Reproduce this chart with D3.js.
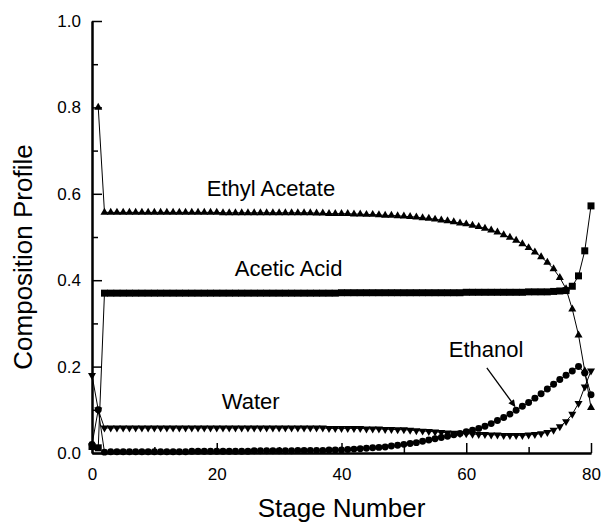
<!DOCTYPE html>
<html>
<head>
<meta charset="utf-8">
<script src="https://cdn.jsdelivr.net/npm/d3@7"></script>
<style>
  body { margin: 0; background: #fff; }
  text { font-family: "Liberation Sans", Arial, Helvetica, sans-serif; fill: #000; }
</style>
</head>
<body>
<div id="chart"></div>
<script>
// stage composition profiles (index = stage number, 0..80)
var ethylAcetate = [
  null, 0.800, 0.557, 0.557, 0.557, 0.557, 0.557, 0.557, 0.557, 0.557,
  0.557, 0.557, 0.557, 0.557, 0.557, 0.557, 0.557, 0.557, 0.557, 0.557,
  0.557, 0.556, 0.556, 0.556, 0.556, 0.556, 0.556, 0.556, 0.556, 0.556,
  0.556, 0.556, 0.556, 0.556, 0.556, 0.556, 0.555, 0.555, 0.554, 0.554,
  0.554, 0.554, 0.553, 0.553, 0.552, 0.552, 0.551, 0.550, 0.550, 0.549,
  0.548, 0.547, 0.546, 0.544, 0.543, 0.541, 0.539, 0.537, 0.535, 0.532,
  0.530, 0.527, 0.524, 0.520, 0.516, 0.511, 0.505, 0.499, 0.492, 0.484,
  0.475, 0.465, 0.454, 0.441, 0.426, 0.406, 0.380, 0.333, 0.273, 0.190,
  0.105
];

var aceticAcid = [
  0.015, 0.012, 0.370, 0.370, 0.370, 0.370, 0.370, 0.370, 0.370, 0.370,
  0.370, 0.370, 0.370, 0.370, 0.370, 0.370, 0.370, 0.370, 0.370, 0.370,
  0.370, 0.370, 0.370, 0.370, 0.370, 0.370, 0.370, 0.370, 0.370, 0.370,
  0.370, 0.370, 0.370, 0.370, 0.370, 0.370, 0.370, 0.370, 0.370, 0.370,
  0.371, 0.371, 0.371, 0.371, 0.371, 0.371, 0.371, 0.371, 0.371, 0.371,
  0.371, 0.371, 0.371, 0.371, 0.371, 0.371, 0.371, 0.371, 0.371, 0.371,
  0.372, 0.372, 0.372, 0.372, 0.372, 0.372, 0.372, 0.372, 0.372, 0.372,
  0.373, 0.373, 0.373, 0.373, 0.374, 0.375, 0.376, 0.386, 0.410, 0.468,
  0.572
];

var ethanol = [
  0.020, 0.100, 0.002, 0.003, 0.003, 0.003, 0.003, 0.003, 0.003, 0.003,
  0.003, 0.003, 0.003, 0.003, 0.003, 0.003, 0.004, 0.004, 0.004, 0.004,
  0.004, 0.004, 0.004, 0.004, 0.004, 0.004, 0.005, 0.005, 0.005, 0.005,
  0.005, 0.005, 0.005, 0.006, 0.006, 0.006, 0.006, 0.006, 0.007, 0.007,
  0.007, 0.008, 0.009, 0.010, 0.011, 0.012, 0.013, 0.014, 0.016, 0.018,
  0.020, 0.022, 0.024, 0.027, 0.030, 0.033, 0.036, 0.039, 0.042, 0.045,
  0.049, 0.053, 0.057, 0.062, 0.068, 0.075, 0.082, 0.090, 0.099, 0.108,
  0.117, 0.127, 0.137, 0.148, 0.159, 0.170, 0.180, 0.190, 0.200, 0.185,
  0.135
];

var water = [
  0.180, 0.100, 0.058, 0.058, 0.058, 0.058, 0.058, 0.058, 0.058, 0.058,
  0.058, 0.058, 0.058, 0.058, 0.058, 0.058, 0.058, 0.058, 0.058, 0.058,
  0.058, 0.058, 0.058, 0.058, 0.058, 0.058, 0.058, 0.058, 0.058, 0.058,
  0.058, 0.058, 0.058, 0.058, 0.058, 0.058, 0.058, 0.058, 0.057, 0.057,
  0.057, 0.057, 0.057, 0.057, 0.056, 0.056, 0.056, 0.055, 0.055, 0.054,
  0.054, 0.053, 0.052, 0.051, 0.050, 0.049, 0.048, 0.047, 0.046, 0.045,
  0.045, 0.044, 0.043, 0.043, 0.042, 0.042, 0.041, 0.041, 0.041, 0.041,
  0.042, 0.043, 0.045, 0.048, 0.053, 0.061, 0.073, 0.090, 0.115, 0.153,
  0.190
];

var xTicks = [0, 20, 40, 60, 80];
var xMinorTicks = [10, 30, 50, 70];
var yTicks = [0.0, 0.2, 0.4, 0.6, 0.8, 1.0];
var yMinorTicks = [0.1, 0.3, 0.5, 0.7, 0.9];

// text labels placed in data units
var labels = [
  { text: "Ethyl Acetate", stage: 18.4, value: 0.595 },
  { text: "Acetic Acid", stage: 22.9, value: 0.410 },
  { text: "Water", stage: 20.8, value: 0.102 },
  { text: "Ethanol", stage: 57.2, value: 0.222 }
];
var arrow = { fromStage: 63.3, fromValue: 0.197, toStage: 67.8, toValue: 0.108 };

var svgWidth = 601;
var svgHeight = 523;

var margin = {
  top: 21,
  bottom: 70,
  left: 92,
  right: 10
};

var chartHeight = svgHeight - margin.top - margin.bottom;
var chartWidth = svgWidth - margin.left - margin.right;

var svg = d3.select("#chart")
  .append("svg")
  .attr("width", svgWidth)
  .attr("height", svgHeight);

svg.append("defs").append("marker")
  .attr("id", "arrowhead")
  .attr("viewBox", "0 0 10 10")
  .attr("refX", 9)
  .attr("refY", 5)
  .attr("markerWidth", 9)
  .attr("markerHeight", 7)
  .attr("markerUnits", "userSpaceOnUse")
  .attr("orient", "auto")
  .append("path")
  .attr("d", "M0,0 L10,5 L0,10 Z")
  .attr("fill", "#000");

var chartGroup = svg.append("g")
  .attr("transform", `translate(${margin.left}, ${margin.top})`);

var xLinearScale = d3.scaleLinear()
  .domain([0, 80])
  .range([0, chartWidth]);

var yLinearScale = d3.scaleLinear()
  .domain([0, 1])
  .range([chartHeight, 0]);

var series = [
  { name: "Ethyl Acetate", values: ethylAcetate, symbol: d3.symbolTriangle, size: 28, rotate: 0 },
  { name: "Acetic Acid", values: aceticAcid, symbol: d3.symbolSquare, size: 49, rotate: 0 },
  { name: "Water", values: water, symbol: d3.symbolTriangle, size: 28, rotate: 180 },
  { name: "Ethanol", values: ethanol, symbol: d3.symbolCircle, size: 38, rotate: 0 }
];

var line = d3.line()
  .defined(d => d != null)
  .x((d, i) => xLinearScale(i))
  .y(d => yLinearScale(d));

series.forEach(function(s) {
  chartGroup.append("path")
    .attr("d", line(s.values))
    .attr("fill", "none")
    .attr("stroke", "#000")
    .attr("stroke-width", 1);
});

series.forEach(function(s) {
  var pts = s.values.map((v, i) => ({ stage: i, value: v })).filter(d => d.value != null);
  chartGroup.append("g")
    .selectAll("path")
    .data(pts)
    .enter()
    .append("path")
    .attr("d", d3.symbol().type(s.symbol).size(s.size))
    .attr("transform", d => `translate(${xLinearScale(d.stage)}, ${yLinearScale(d.value)}) rotate(${s.rotate})`)
    .attr("fill", "#000");
});

// axes with inward ticks
var bottomAxis = d3.axisBottom(xLinearScale)
  .tickValues(xTicks)
  .tickSizeInner(-10)
  .tickSizeOuter(0)
  .tickPadding(15)
  .tickFormat(d3.format("d"));

var bottomMinor = d3.axisBottom(xLinearScale)
  .tickValues(xMinorTicks)
  .tickSizeInner(-6)
  .tickSizeOuter(0)
  .tickFormat("");

var leftAxis = d3.axisLeft(yLinearScale)
  .tickValues(yTicks)
  .tickSizeInner(-10)
  .tickSizeOuter(0)
  .tickPadding(11)
  .tickFormat(d3.format(".1f"));

var leftMinor = d3.axisLeft(yLinearScale)
  .tickValues(yMinorTicks)
  .tickSizeInner(-6)
  .tickSizeOuter(0)
  .tickFormat("");

[bottomMinor, bottomAxis].forEach(function(ax) {
  chartGroup.append("g")
    .attr("transform", `translate(0, ${chartHeight})`)
    .call(ax);
});

[leftMinor, leftAxis].forEach(function(ax) {
  chartGroup.append("g")
    .call(ax);
});

chartGroup.selectAll(".domain")
  .attr("stroke", "#000")
  .attr("stroke-width", 2);

chartGroup.selectAll(".tick line")
  .attr("stroke", "#000")
  .attr("stroke-width", 1.5);

chartGroup.selectAll(".tick text")
  .style("font-size", "17px")
  .attr("fill", "#000");

// annotations
chartGroup.selectAll(".annot")
  .data(labels)
  .enter()
  .append("text")
  .attr("class", "annot")
  .attr("x", d => xLinearScale(d.stage))
  .attr("y", d => yLinearScale(d.value))
  .style("font-size", "22px")
  .text(d => d.text);

chartGroup.append("line")
  .attr("x1", xLinearScale(arrow.fromStage))
  .attr("y1", yLinearScale(arrow.fromValue))
  .attr("x2", xLinearScale(arrow.toStage))
  .attr("y2", yLinearScale(arrow.toValue))
  .attr("stroke", "#000")
  .attr("stroke-width", 1.3)
  .attr("marker-end", "url(#arrowhead)");

// axis titles
chartGroup.append("text")
  .attr("transform", "rotate(-90)")
  .attr("y", -margin.left + 32)
  .attr("x", -(chartHeight / 2) - 20)
  .attr("text-anchor", "middle")
  .style("font-size", "26px")
  .text("Composition Profile");

chartGroup.append("text")
  .attr("y", chartHeight + 64)
  .attr("x", chartWidth / 2)
  .attr("text-anchor", "middle")
  .style("font-size", "26px")
  .text("Stage Number");
</script>
</body>
</html>
